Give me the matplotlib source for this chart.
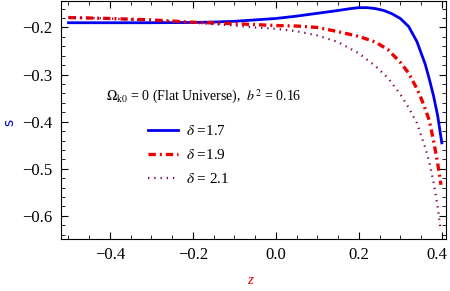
import matplotlib
matplotlib.use("Agg")
import matplotlib.pyplot as plt
import matplotlib.transforms as mtransforms
from matplotlib.ticker import MultipleLocator

plt.rcParams['font.family'] = ['Liberation Serif', 'DejaVu Serif']
plt.rcParams['mathtext.fontset'] = 'stix'

# curves
z_17 = [-0.5, -0.4, -0.3, -0.2, -0.15, -0.1, -0.05, 0.0, 0.05, 0.1, 0.15, 0.18,
        0.2, 0.22, 0.24, 0.26, 0.28, 0.30, 0.32, 0.34, 0.36, 0.37, 0.38, 0.39, 0.40]
s_17 = [-0.190, -0.190, -0.190, -0.1895, -0.1885, -0.187, -0.184, -0.181, -0.176,
        -0.170, -0.164, -0.160, -0.158, -0.158, -0.160, -0.164, -0.171, -0.181,
        -0.198, -0.230, -0.278, -0.310, -0.345, -0.387, -0.445]

z_19 = [-0.5, -0.4, -0.3, -0.2, -0.1, 0.0, 0.05, 0.1, 0.15, 0.2, 0.24, 0.27, 0.30,
        0.32, 0.34, 0.35, 0.36, 0.37, 0.38, 0.39, 0.398]
s_19 = [-0.179, -0.181, -0.184, -0.189, -0.192, -0.196, -0.197, -0.200, -0.209,
        -0.219, -0.231, -0.247, -0.274, -0.297, -0.330, -0.350, -0.373, -0.398,
        -0.440, -0.488, -0.534]

z_21 = [-0.5, -0.4, -0.3, -0.2, -0.1, -0.05, 0.0, 0.05, 0.1, 0.15, 0.2, 0.24, 0.27,
        0.30, 0.32, 0.34, 0.36, 0.37, 0.38, 0.39, 0.397]
s_21 = [-0.179, -0.181, -0.185, -0.190, -0.196, -0.200, -0.203, -0.208, -0.217,
        -0.231, -0.255, -0.282, -0.307, -0.342, -0.370, -0.403, -0.455, -0.486,
        -0.528, -0.580, -0.629]

labels = [r'$\delta$ =1.7', r'$\delta$ =1.9', r'$\delta$ = 2.1']
note = r'$\Omega_{\mathrm{k0}}$ = 0 (Flat Universe),  $b^2$ = 0.16'

fig = plt.figure(figsize=(4.5, 2.91), dpi=100)
ax = fig.add_axes([0.1356, 0.1787, 0.8554, 0.8193])

ax.plot(z_17, s_17, color='#0000ee', lw=2.0, label=labels[0])
ax.plot(z_19, s_19, color='#ee0000', lw=2.4, dashes=(2.2, 1.2, 0.6, 1.2), label=labels[1])
ax.plot(z_21, s_21, color='#800060', lw=1.6, dashes=(0.6, 2.2), label=labels[2])

ax.set_xlim(-0.518, 0.41)
ax.set_ylim(-0.649, -0.143)
ax.xaxis.set_major_locator(MultipleLocator(0.2))
ax.xaxis.set_minor_locator(MultipleLocator(0.05))
ax.yaxis.set_major_locator(MultipleLocator(0.1))
ax.yaxis.set_minor_locator(MultipleLocator(0.02))
ax.tick_params(which='both', direction='in', top=True, right=True, labelsize=12, pad=6)
ax.tick_params(which='major', length=5)
ax.tick_params(which='minor', length=3)
fmt = plt.FuncFormatter(lambda v, p: f"{v:.1f}".replace('-', '\u2212'))
ax.xaxis.set_major_formatter(fmt)
ax.yaxis.set_major_formatter(fmt)

ax.set_xlabel('z', color='#dd0000', fontstyle='italic', fontsize=11)
ax.xaxis.set_label_coords(0.49, -0.145)
ax.set_ylabel('s', color='#0000cc', fontsize=10, family='DejaVu Sans')
ax.yaxis.set_label_coords(-0.115, 0.49)

ax.text(-0.41, -0.348, note, fontsize=10, va='center', ha='left')
ax.legend(loc='upper left', bbox_to_anchor=(0.19, 0.54), frameon=False,
          fontsize=11, handlelength=2.0, labelspacing=0.65, handletextpad=0.5)

# nudge the last x label inward so it stays inside the picture
fig.canvas.draw()
last = ax.get_xticklabels()[-1]
for lab in ax.get_xticklabels():
    if lab.get_text() == '0.4':
        lab.set_transform(lab.get_transform() +
                          mtransforms.ScaledTranslation(-5 / 100, 0, fig.dpi_scale_trans))

fig.savefig('out.png', dpi=100)
